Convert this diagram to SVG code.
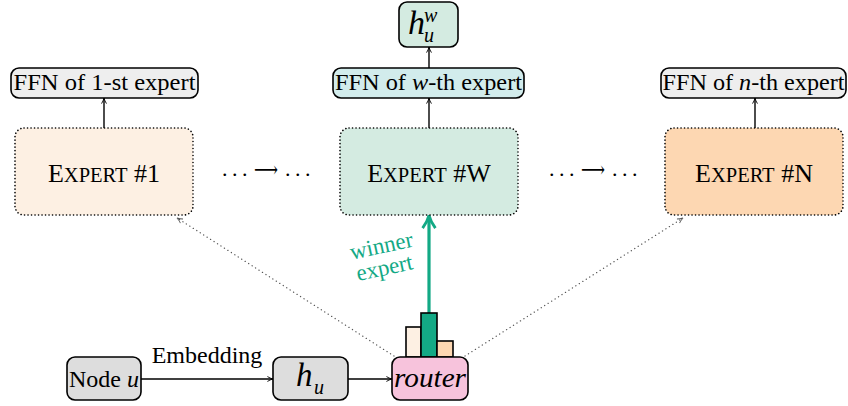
<svg xmlns="http://www.w3.org/2000/svg" width="848" height="406" viewBox="0 0 848 406" font-family="'Liberation Serif', 'Times New Roman', Times, 'DejaVu Serif', serif">
<defs>
<marker id="ah" viewBox="0 0 10 10" refX="9" refY="5" markerWidth="7" markerHeight="7" orient="auto" markerUnits="userSpaceOnUse">
<path d="M1,1.5 Q5,4 9,5 Q5,6 1,8.5" fill="none" stroke="#000" stroke-width="1.3"/>
</marker>
<marker id="ahg" viewBox="0 0 10 10" refX="9" refY="5" markerWidth="7" markerHeight="7" orient="auto" markerUnits="userSpaceOnUse">
<path d="M1,1.5 Q5,4 9,5 Q5,6 1,8.5" fill="none" stroke="#555" stroke-width="1.3"/>
</marker>
<marker id="ahgr" viewBox="0 0 10 10" refX="8" refY="5" markerWidth="16" markerHeight="16" orient="auto" markerUnits="userSpaceOnUse">
<path d="M1,1 Q5,4 9,5 Q5,6 1,9" fill="none" stroke="#13a985" stroke-width="1.8"/>
</marker>
</defs>
<style>
text{font-family:'Liberation Serif','Times New Roman',Times,'DejaVu Serif',serif;fill:#000}
.exp{stroke:#000;stroke-width:1.6;stroke-dasharray:0.1 3.4;stroke-linecap:round}
.box{stroke:#000;stroke-width:1.6}
.ln{stroke:#000;stroke-width:1.4;fill:none}
.big{font-size:26px}
.sc{font-size:20.5px}
.t24{font-size:24px}
.it{font-style:italic}
.grn{fill:#13a985}
.dots{font-size:22px}
</style>

<g id="connectors">
<line class="ln" x1="104" y1="128" x2="104" y2="98" marker-end="url(#ah)"/>
<line class="ln" x1="429" y1="128" x2="429" y2="98" marker-end="url(#ah)"/>
<line class="ln" x1="429" y1="68" x2="429" y2="47" marker-end="url(#ah)"/>
<line class="ln" x1="755" y1="128" x2="755" y2="98" marker-end="url(#ah)"/>
<line class="ln" x1="141" y1="379" x2="273" y2="379" marker-end="url(#ah)"/>
<line class="ln" x1="348" y1="379" x2="392" y2="379" marker-end="url(#ah)"/>
<line x1="394" y1="356" x2="177" y2="218" stroke="#555" stroke-width="1.3" stroke-dasharray="0.1 4" stroke-linecap="round" marker-end="url(#ahg)"/>
<line x1="465" y1="356" x2="683" y2="218" stroke="#555" stroke-width="1.3" stroke-dasharray="0.1 4" stroke-linecap="round" marker-end="url(#ahg)"/>
<line x1="429" y1="313" x2="429" y2="217" stroke="#13a985" stroke-width="3.2" marker-end="url(#ahgr)"/>
<text x="383" y="253" font-size="23" class="grn" text-anchor="middle" transform="rotate(-12 383 253)">winner</text>
<text x="386" y="275" font-size="23" class="grn" text-anchor="middle" transform="rotate(-12 386 275)">expert</text>
<text class="dots" x="222 232 242" y="176">...</text>
<text class="dots" x="266" y="177" text-anchor="middle" textLength="24" lengthAdjust="spacingAndGlyphs">⟶</text>
<text class="dots" x="285 295 305" y="176">...</text>
<text class="dots" x="549 559 569" y="176">...</text>
<text class="dots" x="593" y="177" text-anchor="middle" textLength="24" lengthAdjust="spacingAndGlyphs">⟶</text>
<text class="dots" x="612 622 632" y="176">...</text>
<text x="207" y="363" class="t24" text-anchor="middle">Embedding</text>
</g>

<g id="expert1">
<rect x="15" y="128" width="178" height="87" rx="9" fill="#fdf0e3" class="exp"/>
<text x="104" y="182" text-anchor="middle"><tspan class="big">E</tspan><tspan class="sc">XPERT</tspan><tspan class="big"> #1</tspan></text>
</g>
<g id="expertW">
<rect x="340" y="128" width="178" height="87" rx="9" fill="#d4ebe1" class="exp"/>
<text x="429" y="182" text-anchor="middle"><tspan class="big">E</tspan><tspan class="sc">XPERT</tspan><tspan class="big"> #W</tspan></text>
</g>
<g id="expertN">
<rect x="665" y="128" width="178" height="87" rx="9" fill="#fdd7b2" class="exp"/>
<text x="754" y="182" text-anchor="middle"><tspan class="big">E</tspan><tspan class="sc">XPERT</tspan><tspan class="big"> #N</tspan></text>
</g>

<g id="ffn1">
<rect x="11" y="68" width="187" height="30" rx="8" fill="#eeeeee" class="box"/>
<text x="104.5" y="90" class="t24" text-anchor="middle" textLength="182" lengthAdjust="spacingAndGlyphs">FFN of 1-st expert</text>
</g>
<g id="ffnW">
<rect x="333" y="68" width="191" height="30" rx="8" fill="#d2ecec" class="box"/>
<text x="428.5" y="90" class="t24" text-anchor="middle" textLength="187" lengthAdjust="spacingAndGlyphs">FFN of <tspan class="it">w</tspan>-th expert</text>
</g>
<g id="ffnN">
<rect x="661" y="68" width="185" height="30" rx="8" fill="#eeeeee" class="box"/>
<text x="753.5" y="90" class="t24" text-anchor="middle" textLength="182" lengthAdjust="spacingAndGlyphs">FFN of <tspan class="it">n</tspan>-th expert</text>
</g>

<g id="huw">
<rect x="399" y="2" width="59" height="45" rx="8" fill="#d4ebe1" class="box"/>
<text x="408" y="34" font-size="34" class="it">h</text>
<text x="424" y="22" font-size="20" class="it">w</text>
<text x="424" y="42" font-size="20" class="it">u</text>
</g>

<g id="nodeu">
<rect x="67" y="357" width="74" height="43" rx="8" fill="#dddddd" class="box"/>
<text x="104" y="387" class="t24" text-anchor="middle">Node <tspan class="it">u</tspan></text>
</g>
<g id="hu">
<rect x="273" y="357" width="75" height="43" rx="8" fill="#dddddd" class="box"/>
<text x="296" y="386" font-size="33" class="it">h</text>
<text x="314" y="394" font-size="20" class="it">u</text>
</g>
<g id="router">
<rect x="406" y="327" width="15" height="30" fill="#fdf0e3" class="box"/>
<rect x="421" y="313" width="16" height="44" fill="#13a985" class="box"/>
<rect x="437" y="341" width="16" height="16" fill="#fdd7b2" class="box"/>
<rect x="392" y="357" width="76" height="43" rx="8" fill="#f7c3dc" class="box"/>
<text x="430" y="387" font-size="28" class="it" text-anchor="middle" textLength="72" lengthAdjust="spacingAndGlyphs">router</text>
</g>
</svg>
